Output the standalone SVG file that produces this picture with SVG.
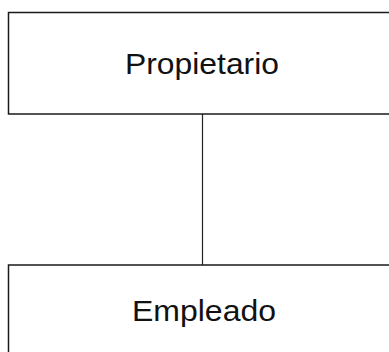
<svg xmlns="http://www.w3.org/2000/svg" width="389" height="352" viewBox="0 0 389 352">
<style>
.box{fill:#ffffff;stroke:#1a1a1a;stroke-width:1.5}
.lbl{font-family:"Liberation Sans",Arial,sans-serif;font-size:29px;fill:#111111;text-anchor:middle}
.conn{stroke:#222222;stroke-width:1.2;fill:none}
</style>
<rect x="0" y="0" width="389" height="352" fill="#ffffff"/>
<g id="connectors">
<line class="conn" x1="202.5" y1="114" x2="202.5" y2="265"/>
</g>
<g id="node-propietario">
<rect class="box" x="8.5" y="12.5" width="400" height="101.5"/>
<text class="lbl" x="202" y="74" textLength="154" lengthAdjust="spacingAndGlyphs">Propietario</text>
</g>
<g id="node-empleado">
<rect class="box" x="8.5" y="265" width="400" height="120"/>
<text class="lbl" x="204" y="321" textLength="144" lengthAdjust="spacingAndGlyphs">Empleado</text>
</g>
</svg>
